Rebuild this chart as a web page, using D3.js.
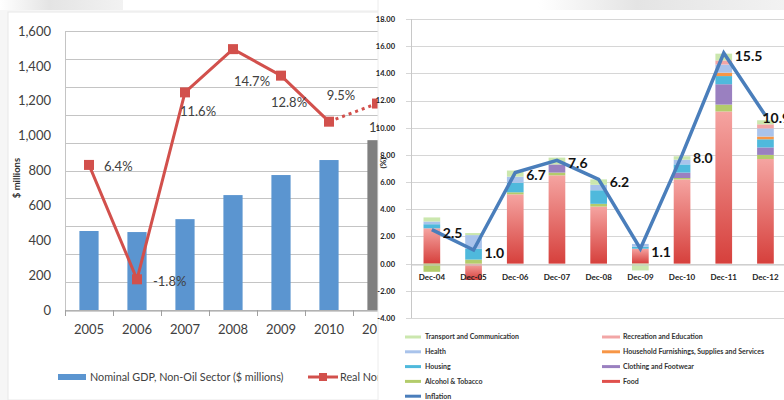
<!DOCTYPE html>
<html>
<head>
<meta charset="utf-8">
<script src="https://cdn.jsdelivr.net/npm/d3@7"></script>
<style>
  html, body { margin: 0; padding: 0; background: #fff; }
  svg { display: block; font-family: Lato, "Liberation Sans", sans-serif; }
</style>
</head>
<body>
<svg id="chart" width="784" height="400"></svg>
<script>
// ---- left chart data
var years = ['2005', '2006', '2007', '2008', '2009', '2010', '2011', '2012'];
var gdpNonOil = [453, 447, 521, 659, 774, 860, 974];   // $ millions
var growth = [6.4, -1.8, 11.6, 14.7, 12.8, 9.5, 10.8]; // %
var gdpTicks = [0, 200, 400, 600, 800, 1000, 1200, 1400, 1600];
// label offsets (dx, dy) of the growth labels
var growthLabelPos = [[15, 2], [16, 2], [13, 19], [19, 32], [8, 27], [12, -26], [10, 24]];

// ---- right chart data
var months = ['Dec-04', 'Dec-05', 'Dec-06', 'Dec-07', 'Dec-08', 'Dec-09', 'Dec-10', 'Dec-11', 'Dec-12'];
var inflation = [2.5, 1.0, 6.7, 7.6, 6.2, 1.1, 8.0, 15.5, 10.9];
var food       = [2.6, -1.2, 5.1, 6.5, 4.2, 1.1, 6.2, 11.2, 7.7];
var alcohol    = [-0.6, 0.3, 0.15, 0.2, 0.2, 0, 0.1, 0.5, 0.3];
var clothing   = [0, 0, 0, 0.6, 0, 0, 0.4, 1.5, 0.55];
var housing    = [0.3, 0.8, 0.7, 0, 1.0, 0.15, 0.6, 0.6, 0.6];
var household  = [0, 0, 0, 0, 0, 0, 0, 0.25, 0.2];
var health     = [0.2, 1.0, 0.45, 0, 0.4, 0.2, 0.35, 0.6, 0.6];
var recreation = [0, 0, 0, 0, 0, 0, 0, 0.3, 0.3];
var transport  = [0.3, 0.15, 0.45, 0.5, 0.4, -0.5, 0.25, 0.5, 0.3];
var pctTicks = [-4, -2, 0, 2, 4, 6, 8, 10, 12, 14, 16, 18];

var components = [
    { key: 'Food', values: food, color: '#d9433f' },
    { key: 'Alcohol & Tobacco', values: alcohol, color: '#b3cc6b' },
    { key: 'Clothing and Footwear', values: clothing, color: '#9a80c0' },
    { key: 'Housing', values: housing, color: '#4fb9dc' },
    { key: 'Household Furnishings, Supplies and Services', values: household, color: '#f79646' },
    { key: 'Health', values: health, color: '#a9c3eb' },
    { key: 'Recreation and Education', values: recreation, color: '#f2a6a6' },
    { key: 'Transport and Communication', values: transport, color: '#cbe7ae' }
];

function translate(x, y) {
    return 'translate(' + x + ',' + y + ')';
}

var svg = d3.select('#chart');
var defs = svg.append('defs');

var gFood = defs.append('linearGradient').attr('id', 'foodGrad')
    .attr('x1', 0).attr('y1', 0).attr('x2', 0).attr('y2', 1);
gFood.append('stop').attr('offset', '0%').attr('stop-color', '#f5a4a1');
gFood.append('stop').attr('offset', '100%').attr('stop-color', '#d6403c');

var gTop = defs.append('linearGradient').attr('id', 'topGrad')
    .attr('x1', 0).attr('y1', 0).attr('x2', 1).attr('y2', 0);
gTop.append('stop').attr('offset', '0%').attr('stop-color', '#ffffff');
gTop.append('stop').attr('offset', '40%').attr('stop-color', '#e4e4e4');
gTop.append('stop').attr('offset', '100%').attr('stop-color', '#f2f2f2');

// the right panel hides everything of the left chart past x = 378
defs.append('clipPath').attr('id', 'leftClip')
    .append('rect').attr('x', 0).attr('y', 0).attr('width', 378).attr('height', 400);

// page bits behind the panels
svg.append('rect').attr('x', 0).attr('y', 0).attr('width', 123).attr('height', 10).attr('fill', 'url(#topGrad)');
svg.append('rect').attr('x', 0).attr('y', 10).attr('width', 784).attr('height', 390).attr('fill', '#f6f6f6');

// ================= LEFT CHART =================
var left = svg.append('g').attr('clip-path', 'url(#leftClip)');
left.append('rect').attr('x', 8).attr('y', 12).attr('width', 420).attr('height', 388)
    .attr('fill', '#fff').attr('stroke', '#e8e8e8');

var xL = d3.scaleBand().domain(years).range([65, 65 + 48 * years.length]);
var yL = d3.scaleLinear().domain([0, 1600]).range([310, 31]);
var yP = d3.scaleLinear().domain([-4, 16]).range([310, 31]);

// gridlines follow the secondary (percent) scale
left.append('g').selectAll('line').data(d3.range(-4, 17, 2)).enter()
    .append('line')
    .attr('x1', 65).attr('x2', 470)
    .attr('y1', d => Math.round(yP(d)) + 0.5).attr('y2', d => Math.round(yP(d)) + 0.5)
    .attr('stroke', '#c4c4c4');
left.append('line').attr('x1', 65.5).attr('x2', 65.5).attr('y1', 31).attr('y2', 310)
    .attr('stroke', '#c4c4c4');

var yAxisL = d3.axisLeft(yL).tickValues(gdpTicks).tickSize(0).tickPadding(14)
    .tickFormat(d3.format(','));
var yg = left.append('g').attr('transform', translate(65, 0)).call(yAxisL);
yg.select('.domain').remove();
yg.selectAll('text').attr('font-size', 13).attr('fill', '#404040')
    .attr('font-family', 'Lato, sans-serif');

left.append('text').attr('transform', translate(20, 178) + ' rotate(-90)')
    .attr('text-anchor', 'middle').attr('font-size', 9.5).attr('font-weight', 'bold')
    .attr('fill', '#333').text('$ millions');

// bars
left.append('g').selectAll('rect').data(gdpNonOil).enter()
    .append('rect')
    .attr('x', (d, i) => xL(years[i]) + xL.bandwidth() * 0.3)
    .attr('width', xL.bandwidth() * 0.4)
    .attr('y', d => yL(d))
    .attr('height', d => yL(0) - yL(d))
    .attr('fill', (d, i) => i === 6 ? '#7f7f7f' : '#5b95d0');

// x axis
var xAxisL = d3.axisBottom(xL).tickSize(0).tickPadding(14);
var xg = left.append('g').attr('transform', translate(0, 310.5)).call(xAxisL);
xg.select('.domain').attr('stroke', '#a0a0a0');
xg.selectAll('text').attr('font-size', 13).attr('fill', '#404040')
    .attr('font-family', 'Lato, sans-serif');
left.append('g').selectAll('line').data(years).enter()
    .append('line')
    .attr('x1', d => Math.round(xL(d)) + 0.5).attr('x2', d => Math.round(xL(d)) + 0.5)
    .attr('y1', 310).attr('y2', 316).attr('stroke', '#a0a0a0');

// growth line
var cx = (d, i) => xL(years[i]) + xL.bandwidth() / 2;
var lineL = d3.line().x(cx).y(d => yP(d));
left.append('path').datum(growth.slice(0, 6)).attr('d', lineL)
    .attr('fill', 'none').attr('stroke', '#d2504c').attr('stroke-width', 3)
    .attr('stroke-linejoin', 'round');
left.append('path')
    .attr('d', 'M' + cx(0, 5) + ',' + yP(growth[5]) + 'L' + cx(0, 6) + ',' + yP(growth[6]))
    .attr('fill', 'none').attr('stroke', '#d2504c').attr('stroke-width', 3)
    .attr('stroke-dasharray', '3,4');
left.append('g').selectAll('rect').data(growth).enter()
    .append('rect')
    .attr('x', (d, i) => cx(d, i) - 5).attr('y', d => yP(d) - 5)
    .attr('width', 10).attr('height', 10).attr('fill', '#d2504c');
left.append('g').selectAll('text').data(growth).enter()
    .append('text')
    .attr('x', (d, i) => cx(d, i) + growthLabelPos[i][0])
    .attr('y', (d, i) => yP(d) + growthLabelPos[i][1])
    .attr('dy', '0.35em')
    .attr('text-anchor', (d, i) => i === 0 || i === 1 ? 'start' : 'middle')
    .attr('font-size', 13).attr('fill', '#404040')
    .text(d => d.toFixed(1) + '%');

// legend
var lgL = left.append('g').attr('transform', translate(0, 377));
lgL.append('rect').attr('x', 58).attr('y', -3).attr('width', 28).attr('height', 6).attr('fill', '#5b95d0');
lgL.append('text').attr('x', 90).attr('y', 0).attr('dy', '0.35em').attr('font-size', 10.8)
    .attr('fill', '#404040').text('Nominal GDP, Non-Oil Sector ($ millions)');
lgL.append('line').attr('x1', 308).attr('x2', 338).attr('y1', 0).attr('y2', 0)
    .attr('stroke', '#d2504c').attr('stroke-width', 3);
lgL.append('rect').attr('x', 319).attr('y', -4).attr('width', 8).attr('height', 8).attr('fill', '#d2504c');
lgL.append('text').attr('x', 340).attr('y', 0).attr('dy', '0.35em').attr('font-size', 10.8)
    .attr('fill', '#404040').text('Real Non-Oil GDP Growth (%)');

// ================= RIGHT CHART =================
var right = svg.append('g');
right.append('rect').attr('x', 378).attr('y', 0).attr('width', 406).attr('height', 400)
    .attr('fill', '#fff');
right.append('rect').attr('x', 538).attr('y', 0).attr('width', 246).attr('height', 10)
    .attr('fill', 'url(#topGrad)');
right.append('line').attr('x1', 378).attr('x2', 378).attr('y1', 0).attr('y2', 400)
    .attr('stroke', '#ececec');

var xR = d3.scaleBand().domain(months).range([411, 411 + 41.7 * months.length]);
var yR = d3.scaleLinear().domain([-4, 18]).range([318, 19]);

right.append('g').selectAll('line').data(pctTicks).enter()
    .append('line')
    .attr('x1', 406).attr('x2', 784)
    .attr('y1', d => Math.round(yR(d)) + 0.5).attr('y2', d => Math.round(yR(d)) + 0.5)
    .attr('stroke', '#d6d6d6');
right.append('line').attr('x1', 411.5).attr('x2', 411.5).attr('y1', 19).attr('y2', 318)
    .attr('stroke', '#c8c8c8');

var yAxisR = d3.axisLeft(yR).tickValues(pctTicks).tickSize(0).tickPadding(16)
    .tickFormat(d => d.toFixed(2));
var ygR = right.append('g').attr('transform', translate(411, 0)).call(yAxisR);
ygR.select('.domain').remove();
ygR.selectAll('text').attr('font-size', 7.5).attr('font-weight', 'bold').attr('fill', '#222')
    .attr('font-family', 'Lato, sans-serif');

right.append('text').attr('transform', translate(386, 163) + ' rotate(-90)')
    .attr('text-anchor', 'middle').attr('font-size', 8).attr('font-weight', 'bold')
    .attr('fill', '#222').text('(%)');

// stacked bars
var table = months.map((m, i) => {
    var row = { month: m };
    components.forEach(c => { row[c.key] = c.values[i]; });
    return row;
});
var stack = d3.stack().keys(components.map(c => c.key)).offset(d3.stackOffsetDiverging);
var series = stack(table);
var bw = xR.bandwidth() * 0.4;
right.append('g').selectAll('g').data(series).enter()
    .append('g')
    .attr('fill', (s, i) => i === 0 ? 'url(#foodGrad)' : components[i].color)
    .selectAll('rect').data(s => s).enter()
    .append('rect')
    .attr('x', d => xR(d.data.month) + (xR.bandwidth() - bw) / 2)
    .attr('width', bw)
    .attr('y', d => yR(Math.max(d[0], d[1])))
    .attr('height', d => Math.abs(yR(d[0]) - yR(d[1])));

// category axis at zero
var xAxisR = d3.axisBottom(xR).tickSize(0).tickPadding(10);
var xgR = right.append('g').attr('transform', translate(0, Math.round(yR(0)) + 0.5)).call(xAxisR);
xgR.select('.domain').attr('stroke', '#c8c8c8');
xgR.selectAll('text').attr('font-size', 8).attr('font-weight', 'bold').attr('fill', '#222')
    .attr('font-family', 'Lato, sans-serif');

// inflation line
var cxR = (d, i) => xR(months[i]) + xR.bandwidth() / 2;
var lineR = d3.line().x(cxR).y(d => yR(d));
right.append('path').datum(inflation).attr('d', lineR)
    .attr('fill', 'none').attr('stroke', '#4a7ebb').attr('stroke-width', 3.5)
    .attr('stroke-linejoin', 'miter');
right.append('g').selectAll('text').data(inflation).enter()
    .append('text')
    .attr('x', (d, i) => cxR(d, i) + (i === 8 ? -3 : 11))
    .attr('y', d => yR(d) + 3)
    .attr('dy', '0.35em')
    .attr('font-size', 14).attr('font-weight', 'bold').attr('fill', '#111')
    .text(d => d.toFixed(1));

// legend
var legendItems = [
    components[7], components[6], components[5], components[4],
    components[3], components[2], components[1], components[0],
    { key: 'Inflation', color: '#4a7ebb' }
];
var lgR = right.append('g').selectAll('g').data(legendItems).enter()
    .append('g')
    .attr('transform', (d, i) => translate(i % 2 === 0 ? 405 : 602, 337 + Math.floor(i / 2) * 14.8));
lgR.append('line').attr('x1', 0).attr('x2', (d, i) => i % 2 === 0 ? 16 : 18)
    .attr('y1', 0).attr('y2', 0)
    .attr('stroke', d => d.key === 'Food' ? '#e0504c' : d.color).attr('stroke-width', 3);
lgR.append('text').attr('x', (d, i) => i % 2 === 0 ? 20 : 21).attr('y', 0).attr('dy', '0.35em')
    .attr('font-size', 7).attr('font-weight', 'bold').attr('fill', '#333')
    .text(d => d.key);
</script>
</body>
</html>
